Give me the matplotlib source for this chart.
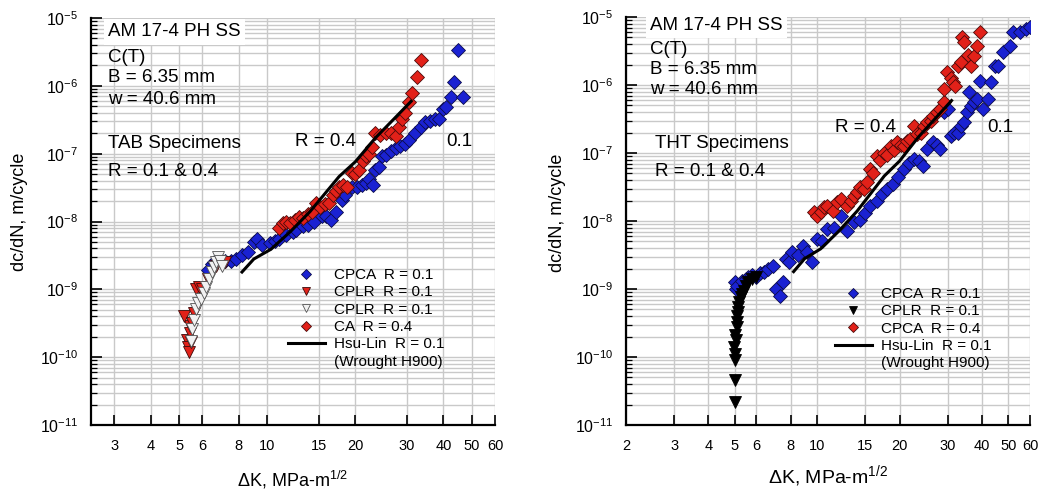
import matplotlib
matplotlib.use("Agg")
import matplotlib.pyplot as plt
from matplotlib.lines import Line2D
from matplotlib.ticker import LogLocator, NullFormatter, NullLocator

plt.rcParams["font.family"] = ["Liberation Sans", "DejaVu Sans"]
plt.rcParams["mathtext.fontset"] = "custom"
plt.rcParams["mathtext.rm"] = "Liberation Sans"
plt.rcParams["mathtext.it"] = "Liberation Sans:italic"

# ---- TAB specimens (left) ----
tab_cpca_k = [6.3, 6.5, 6.6, 6.9, 7.2, 7.5, 7.85, 8.2, 8.6, 9.0, 9.2, 9.6, 10.2, 10.6,
              11.0, 11.6, 12.2, 12.5, 13.2, 13.8, 14.5, 15.4, 15.9, 16.5, 17.2, 18.0,
              18.5, 19.5, 20.3, 21.0, 21.7, 22.3, 23.0, 23.4, 24.0, 24.6, 25.5, 26.5,
              27.5, 28.5, 29.5, 30.5, 32.0, 33.5, 34.7, 36.0, 37.5, 38.5, 40.0, 40.7,
              42.5, 43.6, 44.7, 46.7]
tab_cpca_da = [1.9e-9, 2.4e-9, 2.5e-9, 2.8e-9, 2.6e-9, 2.6e-9, 2.8e-9, 3.2e-9, 3.5e-9,
               5.0e-9, 5.5e-9, 4.5e-9, 4.9e-9, 5.2e-9, 5.6e-9, 6.3e-9, 6.9e-9, 7.6e-9,
               8.5e-9, 8.9e-9, 1.0e-8, 1.2e-8, 1.2e-8, 1.05e-8, 1.4e-8, 2.1e-8, 2.5e-8,
               3.2e-8, 3.2e-8, 3.5e-8, 3.7e-8, 4.2e-8, 3.5e-8, 5.8e-8, 6.3e-8, 9.1e-8,
               9.5e-8, 1.1e-7, 1.2e-7, 1.3e-7, 1.4e-7, 1.6e-7, 2.0e-7, 2.5e-7, 2.9e-7,
               3.0e-7, 3.2e-7, 3.2e-7, 4.5e-7, 4.9e-7, 6.9e-7, 1.15e-6, 3.4e-6, 6.9e-7]

tab_ca_k = [11.0, 11.3, 11.6, 12.0, 12.4, 12.8, 13.3, 13.8, 14.2, 14.7, 15.2, 15.7, 16.3,
            16.8, 17.2, 17.6, 18.2, 18.8, 19.5, 20.0, 20.6, 21.2, 21.7, 22.3, 22.8, 23.4,
            24.2, 25.4, 26.5, 27.5, 28.2, 28.8, 29.6, 30.5, 31.3, 32.5, 33.5]
tab_ca_da = [8.1e-9, 9.5e-9, 1.0e-8, 9.5e-9, 1.07e-8, 1.17e-8, 1.12e-8, 1.3e-8, 1.4e-8,
             1.9e-8, 1.65e-8, 1.8e-8, 1.9e-8, 2.5e-8, 2.8e-8, 3.2e-8, 3.5e-8, 3.2e-8,
             5.2e-8, 5.0e-8, 5.8e-8, 7.9e-8, 9.1e-8, 1.0e-7, 1.26e-7, 2.0e-7, 1.9e-7,
             2.0e-7, 2.0e-7, 1.8e-7, 2.5e-7, 3.2e-7, 4.0e-7, 5.8e-7, 7.9e-7, 1.35e-6, 2.4e-6]

tab_cplr_red_k = [5.3, 5.35, 5.4, 5.43, 5.45, 5.2, 5.5, 5.55, 5.6, 5.7, 5.85, 6.0, 6.3,
                  6.7, 7.0, 7.2]
tab_cplr_red_da = [1.8e-10, 1.4e-10, 1.2e-10, 2.3e-10, 2.9e-10, 4.0e-10, 1.65e-10,
                   3.2e-10, 4.5e-10, 1.0e-9, 1.07e-9, 1.0e-9, 1.4e-9, 2.2e-9, 2.4e-9, 2.5e-9]

tab_cplr_wht_k = [5.5, 5.55, 5.6, 5.7, 5.8, 5.95, 6.1, 6.2, 6.35, 6.5, 6.6, 6.7, 6.8,
                  6.9, 7.0]
tab_cplr_wht_da = [1.74e-10, 2.6e-10, 3.5e-10, 5.1e-10, 6.3e-10, 7.1e-10, 8.9e-10,
                   1.1e-9, 1.4e-9, 1.8e-9, 2.1e-9, 2.5e-9, 2.95e-9, 2.6e-9, 2.2e-9]

# ---- THT specimens (right) ----
tht_cpca1_k = [5.0, 5.05, 5.1, 5.3, 5.5, 5.6, 5.8, 6.0, 6.2, 6.4, 6.6, 6.9, 7.1, 7.3,
               7.5, 7.7, 7.9, 8.1, 8.5, 8.9, 9.2, 9.6, 10.0, 10.4, 10.9, 11.5, 12.2,
               12.9, 13.6, 14.3, 15.0, 15.6, 16.5, 17.2, 18.0, 19.0, 19.8, 20.7, 21.6,
               22.6, 23.5, 24.4, 25.3, 26.6, 27.4, 28.2, 29.0, 30.0, 30.8, 31.7, 32.6,
               33.6, 34.4, 35.3, 36.0, 36.6, 37.5, 38.5, 39.4, 40.5, 42.0, 43.2, 44.5,
               46.0, 47.9, 50.5, 52.0, 55.0, 58.0, 60.0]
tht_cpca1_da = [1.26e-9, 1.0e-9, 1.1e-9, 1.3e-9, 1.4e-9, 1.5e-9, 1.6e-9, 1.5e-9, 1.7e-9,
                1.8e-9, 2.0e-9, 2.2e-9, 1.0e-9, 8.0e-10, 1.26e-9, 2.75e-9, 2.5e-9, 3.5e-9,
                3.2e-9, 4.3e-9, 3.5e-9, 2.5e-9, 5.5e-9, 5.0e-9, 7.6e-9, 7.9e-9, 1.17e-8,
                7.1e-9, 9.8e-9, 1.05e-8, 1.3e-8, 1.65e-8, 2.0e-8, 2.5e-8, 2.95e-8, 3.5e-8,
                4.5e-8, 5.8e-8, 7.1e-8, 8.1e-8, 7.6e-8, 6.5e-8, 1.15e-7, 1.45e-7, 1.3e-7,
                1.15e-7, 4.0e-7, 4.5e-7, 1.8e-7, 2.0e-7, 2.0e-7, 2.5e-7, 2.9e-7, 4.0e-7,
                7.9e-7, 4.9e-7, 5.6e-7, 6.2e-7, 1.15e-6, 4.5e-7, 6.2e-7, 1.1e-6, 1.9e-6,
                1.9e-6, 3.1e-6, 3.7e-6, 6.0e-6, 6.0e-6, 6.6e-6, 7.1e-6]

tht_cplr_k = [5.0, 5.0, 5.0, 5.02, 4.98, 5.05, 5.0, 5.08, 5.1, 5.1, 5.12, 5.15, 5.2,
              5.25, 5.3, 5.4, 5.5, 5.6, 5.8, 6.0]
tht_cplr_da = [2.2e-11, 4.6e-11, 9.0e-11, 1.1e-10, 1.4e-10, 1.8e-10, 2.1e-10, 2.8e-10,
               3.3e-10, 4.0e-10, 4.6e-10, 5.5e-10, 6.5e-10, 7.5e-10, 8.5e-10, 9.5e-10,
               1.1e-9, 1.25e-9, 1.4e-9, 1.5e-9]

tht_cpca4_k = [9.7, 10.0, 10.3, 10.6, 10.9, 11.4, 11.8, 12.2, 12.9, 13.3, 13.6, 14.0,
               14.4, 14.8, 15.2, 15.6, 16.0, 16.5, 17.0, 17.5, 18.0, 18.6, 19.1, 19.6,
               20.2, 20.7, 21.3, 21.9, 22.6, 23.2, 23.9, 24.6, 25.3, 26.0, 26.6, 27.4,
               28.2, 29.0, 29.0, 29.9, 30.8, 31.4, 32.0, 32.6, 33.5, 33.9, 34.4, 35.5,
               36.6, 37.4, 38.5, 39.4]
tht_cpca4_da = [1.35e-8, 1.17e-8, 1.35e-8, 1.6e-8, 1.65e-8, 1.4e-8, 1.9e-8, 2.1e-8,
                1.65e-8, 2.0e-8, 2.3e-8, 2.7e-8, 3.2e-8, 3.0e-8, 3.7e-8, 5.8e-8, 5.0e-8,
                9.1e-8, 7.9e-8, 1.0e-7, 9.5e-8, 1.26e-7, 1.1e-7, 1.45e-7, 1.3e-7, 1.26e-7,
                1.5e-7, 1.6e-7, 2.5e-7, 1.9e-7, 2.0e-7, 2.5e-7, 2.9e-7, 3.0e-7, 3.5e-7,
                4.0e-7, 4.5e-7, 5.6e-7, 8.7e-7, 1.55e-6, 1.25e-6, 1.1e-6, 9.8e-7, 1.9e-6,
                2.2e-6, 5.1e-6, 4.3e-6, 2.8e-6, 1.9e-6, 2.7e-6, 3.7e-6, 6.0e-6]

# Hsu-Lin wrought H900 curve (same on both panels)
hsulin_k = [8.2, 9.0, 10.3, 12.0, 14.0, 17.6, 20.0, 23.4, 27.0, 31.0]
hsulin_da = [1.8e-9, 2.8e-9, 3.9e-9, 7.1e-9, 1.4e-8, 4.6e-8, 7.6e-8, 1.7e-7, 3.2e-7, 5.9e-7]

# ticks
left_xticks = [3, 4, 5, 6, 8, 10, 15, 20, 30, 40, 50, 60]
right_xticks = [2, 3, 4, 5, 6, 8, 10, 15, 20, 30, 40, 50, 60]
yticks = [1e-11, 1e-10, 1e-9, 1e-8, 1e-7, 1e-6, 1e-5]
ylabels = [r"$\mathregular{10^{-11}}$", r"$\mathregular{10^{-10}}$", r"$\mathregular{10^{-9}}$",
           r"$\mathregular{10^{-8}}$", r"$\mathregular{10^{-7}}$", r"$\mathregular{10^{-6}}$",
           r"$\mathregular{10^{-5}}$"]

BLUE = "#1a22d2"
RED = "#e22119"
GRID = "#c9c9c9"
W, H = 1046, 497

fig = plt.figure(figsize=(W / 100, H / 100), dpi=100)
ax1 = fig.add_axes([91 / W, 72 / H, 404 / W, 407 / H])
ax2 = fig.add_axes([626 / W, 72 / H, 404 / W, 408 / H])


def style(ax, xlim, xticks):
    ax.set_xscale("log")
    ax.set_yscale("log")
    ax.set_xlim(*xlim)
    ax.set_ylim(1e-11, 1e-5)
    ax.set_xticks(xticks)
    ax.set_xticklabels([str(t) for t in xticks])
    ax.xaxis.set_minor_locator(NullLocator())
    for lab in ax.get_xticklabels():
        if lab.get_text() == "10":
            lab.set_fontsize(13)
    ax.set_yticks(yticks)
    ax.set_yticklabels(ylabels)
    ax.yaxis.set_minor_locator(LogLocator(base=10, subs=range(2, 10), numticks=20))
    ax.yaxis.set_minor_formatter(NullFormatter())
    ax.grid(True, which="major", axis="x", color=GRID, lw=1)
    ax.grid(True, which="both", axis="y", color=GRID, lw=1)
    ax.set_axisbelow(True)
    for s in ["top", "right"]:
        ax.spines[s].set_visible(False)
    for s in ["left", "bottom"]:
        ax.spines[s].set_linewidth(1.6)
    ax.tick_params(which="both", direction="in", color="black")
    ax.tick_params(axis="y", which="major", length=8, width=1.2, labelsize=11.5, pad=9)
    ax.tick_params(axis="y", which="minor", length=4, width=0.9)
    ax.tick_params(axis="x", which="major", length=7, width=1.2, labelsize=10.5, pad=10)


style(ax1, (2.5, 60), left_xticks)
style(ax2, (2, 60), right_xticks)

mk = dict(linestyle="none", markeredgewidth=0.6)

# left panel
ax1.plot(tab_cpca_k, tab_cpca_da, "D", ms=7, color=BLUE, mec="#0b0b4a", label="CPCA  R = 0.1", **mk)
ax1.plot(tab_cplr_red_k, tab_cplr_red_da, "v", ms=8, color=RED, mec="#3a0a0a", label="CPLR  R = 0.1", **mk)
ax1.plot(tab_cplr_wht_k, tab_cplr_wht_da, "v", ms=8, color="#f2f2f2", mec="#555555", label="CPLR  R = 0.1", **mk)
ax1.plot(tab_ca_k, tab_ca_da, "D", ms=7, color=RED, mec="#4a0a0a", label="CA  R = 0.4", **mk)
ax1.plot(hsulin_k, hsulin_da, "-", color="black", lw=2.2, label="Hsu-Lin  R = 0.1", zorder=5)

# right panel
ax2.plot(tht_cpca1_k, tht_cpca1_da, "D", ms=7, color=BLUE, mec="#0b0b4a", label="CPCA  R = 0.1", **mk)
ax2.plot(tht_cplr_k, tht_cplr_da, "v", ms=8, color="black", mec="black", label="CPLR  R = 0.1", **mk)
ax2.plot(tht_cpca4_k, tht_cpca4_da, "D", ms=7, color=RED, mec="#4a0a0a", label="CPCA  R = 0.4", **mk)
ax2.plot(hsulin_k, hsulin_da, "-", color="black", lw=2.2, label="Hsu-Lin  R = 0.1", zorder=5)

for ax, anchor in [(ax1, (288 / W, 1 - 268 / H)), (ax2, (835 / W, 1 - 287 / H))]:
    h, l = ax.get_legend_handles_labels()
    h.append(Line2D([], [], linestyle="none"))
    l.append("(Wrought H900)")
    ax.legend(h, l, loc="upper left", bbox_to_anchor=anchor, bbox_transform=fig.transFigure,
              frameon=False, numpoints=1, fontsize=11, handlelength=2.4, handletextpad=0.6,
              labelspacing=0.22, borderpad=0, borderaxespad=0, markerscale=0.75)

# annotations
txt = dict(fontsize=13.5, va="center", ha="left")
fig.text(108 / W, 1 - 32 / H, "AM 17-4 PH SS",
         bbox=dict(facecolor="white", edgecolor="none", pad=3), **txt)
fig.text(108 / W, 1 - 57 / H, "C(T)", **txt)
fig.text(108 / W, 1 - 78 / H, "B = 6.35 mm", **txt)
fig.text(108 / W, 1 - 99 / H, "w = 40.6 mm", **txt)
fig.text(108 / W, 1 - 143 / H, "TAB Specimens", **txt)
fig.text(108 / W, 1 - 172 / H, "R = 0.1 & 0.4", **txt)
fig.text(295 / W, 1 - 142 / H, "R = 0.4", **txt)
fig.text(446 / W, 1 - 142 / H, "0.1", **txt)

fig.text(650 / W, 1 - 25 / H, "AM 17-4 PH SS",
         bbox=dict(facecolor="white", edgecolor="none", pad=3), **txt)
fig.text(650 / W, 1 - 50 / H, "C(T)", **txt)
fig.text(650 / W, 1 - 70 / H, "B = 6.35 mm", **txt)
fig.text(650 / W, 1 - 90 / H, "w = 40.6 mm", **txt)
fig.text(655 / W, 1 - 143 / H, "THT Specimens", **txt)
fig.text(655 / W, 1 - 172 / H, "R = 0.1 & 0.4", **txt)
fig.text(835 / W, 1 - 127 / H, "R = 0.4", **txt)
fig.text(987 / W, 1 - 127 / H, "0.1", **txt)

# axis labels
fig.text(20 / W, 1 - 212 / H, "dc/dN, m/cycle", rotation=90, fontsize=13, ha="center", va="center")
fig.text(557 / W, 1 - 213 / H, "dc/dN, m/cycle", rotation=90, fontsize=13, ha="center", va="center")
fig.text(293 / W, 1 - 480 / H, r"$\Delta$K, MPa-m$^{1/2}$", fontsize=13, ha="center", va="center")
fig.text(828 / W, 1 - 476 / H, r"$\Delta$K, MPa-m$^{1/2}$", fontsize=14, ha="center", va="center")

fig.savefig("out.png", dpi=100)
